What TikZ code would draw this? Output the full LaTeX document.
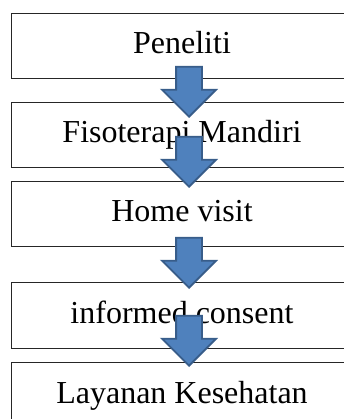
\documentclass[tikz,border=0pt]{standalone}
\usepackage{fontspec}
\setmainfont{Liberation Serif}
\usepackage{tikz}
\usetikzlibrary{positioning,shapes.arrows}
\definecolor{flblue}{HTML}{4F81BD}
\definecolor{flnavy}{HTML}{385D8A}
\definecolor{flline}{HTML}{262626}

\begin{document}
\begin{tikzpicture}[x=1pt,y=-1pt,
  font=\fontsize{32}{38}\selectfont,
  box/.style={draw=flline,line width=0.9pt,minimum width=342pt,minimum height=65pt,
              text height=22pt,text depth=5pt,inner sep=0pt},
  blk/.style={single arrow,draw=flnavy,fill=flblue,line width=1.8pt,rotate=-90,
              minimum height=50pt,single arrow head extend=14pt,
              inner xsep=0pt,inner ysep=12pt,anchor=tip}]
  \useasboundingbox (0,0) rectangle (344,419);
  \clip (0,0) rectangle (344,419);

  % steps
  \node[box] (peneliti) at (182,45.5) {Peneliti};
  \node[box] (fisio) at (182,134.5) {Fisoterapi Mandiri};
  \node[box] (visit) at (182,213.5) {Home visit};
  \node[box,minimum height=66pt] (consent) at (182,315) {informed consent};
  \node[box] (layanan) at (182,394.5) {Layanan Kesehatan};

  % block arrows, drawn over the boxes
  \node[blk] (a1) at (189,118) {};
  \node[blk] (a2) at (189,188) {};
  \node[blk] (a3) at (189,289) {};
  \node[blk] (a4) at (189,367) {};
\end{tikzpicture}
\end{document}
